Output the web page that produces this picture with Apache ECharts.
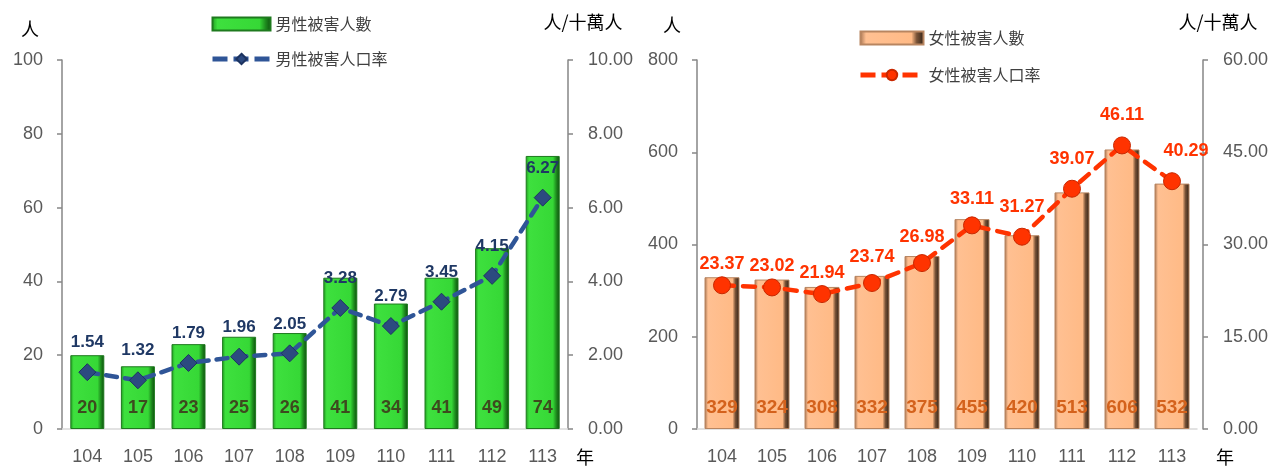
<!DOCTYPE html>
<html><head><meta charset="utf-8">
<script src="https://cdn.jsdelivr.net/npm/echarts@6/dist/echarts.min.js"></script>
<style>html,body{margin:0;padding:0;background:#fff}#c{width:1274px;height:466px}</style>
</head><body><div id="c"></div>
<script>
const years = ['104','105','106','107','108','109','110','111','112','113'];
const maleCount = [20,17,23,25,26,41,34,41,49,74];
const maleRate = [1.54,1.32,1.79,1.96,2.05,3.28,2.79,3.45,4.15,6.27];
const femaleCount = [329,324,308,332,375,455,420,513,606,532];
const femaleRate = [23.37,23.02,21.94,23.74,26.98,33.11,31.27,39.07,46.11,40.29];
const maleNames = ['男性被害人數','男性被害人口率'];
const femaleNames = ['女性被害人數','女性被害人口率'];

const NUM = "'Liberation Sans', Arial, sans-serif";
const NARROW = "'Liberation Sans Narrow', 'Liberation Sans', sans-serif";
const CJK = "'Noto Sans CJK TC', sans-serif";

const greenGrad = new echarts.graphic.LinearGradient(0,0,1,0,[
  {offset:0,color:'#1F9A1F'},{offset:0.1,color:'#3EE03E'},{offset:0.8,color:'#36D836'},{offset:0.9,color:'#1E8C1E'},{offset:1,color:'#0C4A0C'}]);
const peachGrad = new echarts.graphic.LinearGradient(0,0,1,0,[
  {offset:0,color:'#A06E4C'},{offset:0.1,color:'#FFC092'},{offset:0.8,color:'#FFBA86'},{offset:0.88,color:'#7A5438'},{offset:1,color:'#2A1D13'}]);

function xAx(gi,gap){
  return {type:'category',gridIndex:gi,data:years,
    axisLine:{lineStyle:{color:'#D9D9D9',width:1.5}},axisTick:{show:false},
    axisLabel:{color:'#595959',fontSize:18,fontFamily:NUM,margin:19},
    name:'\n年',nameLocation:'end',nameGap:gap,nameMoveOverlap:false,
    nameTextStyle:{color:'#000',fontSize:18,fontFamily:CJK,lineHeight:56,align:'left'}};
}
function yAx(gi,pos,max,interval,dec,name,gap,pad,offset){
  return {type:'value',gridIndex:gi,position:pos,offset:offset||0,min:0,max:max,interval:interval,
    axisLine:{show:true,lineStyle:{color:'#868686',width:1.5}},
    axisTick:{show:true,length:5,lineStyle:{color:'#868686',width:1.5}},
    splitLine:{show:false},
    axisLabel:{color:'#595959',fontSize:18,fontFamily:NUM,margin:dec?20:19,
      formatter:v=>dec?v.toFixed(2):String(v)},
    name:name,nameLocation:'end',nameGap:gap,nameMoveOverlap:false,
    nameTextStyle:{color:'#000',fontSize:18,fontFamily:CJK,padding:pad}};
}
const legendLine = {type:[15,6],width:5,cap:'butt'};

const option = {
  animation:false,
  grid:[{left:62,width:506,top:60,height:369,outerBoundsMode:'none',containLabel:false},
        {left:697,width:500,top:60,height:369,outerBoundsMode:'none',containLabel:false}],
  legend:[
    {orient:'vertical',left:205,top:11,itemWidth:58,itemHeight:13,itemGap:19,
      data:[{name:maleNames[0],icon:'rect'},{name:maleNames[1],lineStyle:legendLine}],
      textStyle:{color:'#404040',fontSize:16,fontFamily:CJK}},
    {orient:'vertical',left:853,top:25,itemWidth:63,itemHeight:13,itemGap:21,
      data:[{name:femaleNames[0],icon:'rect'},{name:femaleNames[1],lineStyle:legendLine}],
      textStyle:{color:'#404040',fontSize:16,fontFamily:CJK}}
  ],
  xAxis:[xAx(0,8),xAx(1,19)],
  yAxis:[
    yAx(0,'left',100,20,false,'人',22,[0,64,0,0]),
    yAx(0,'right',10,2,true,'人/十萬人',29,[0,0,0,30]),
    yAx(1,'left',800,200,false,'人',26,[0,50,0,0]),
    yAx(1,'right',60,15,true,'人/十萬人',29,[0,0,0,30],6)
  ],
  series:[
    {name:maleNames[0],type:'bar',xAxisIndex:0,yAxisIndex:0,data:maleCount,barWidth:34,
      itemStyle:{color:greenGrad,borderColor:'#1E7A1E',borderWidth:1},
      label:{show:true,position:'insideBottom',distance:12,color:'#3D4A1E',fontWeight:'bold',fontSize:18,fontFamily:NARROW}},
    {name:maleNames[1],type:'line',xAxisIndex:0,yAxisIndex:1,data:maleRate,
      symbol:'diamond',symbolSize:17,
      lineStyle:{color:'#2F5597',width:4.5,type:[11,8],cap:'round'},
      itemStyle:{color:'#2C4A80',borderColor:'#1C3360',borderWidth:1},
      label:{show:true,position:'top',distance:12,color:'#1F3864',fontWeight:'bold',fontSize:17,fontFamily:NUM,
        formatter:p=>p.value.toFixed(2)}},
    {name:femaleNames[0],type:'bar',xAxisIndex:1,yAxisIndex:2,data:femaleCount,barWidth:35,
      itemStyle:{color:peachGrad,borderColor:'#B88560',borderWidth:1},
      label:{show:true,position:'insideBottom',distance:12,color:'#D4621C',fontWeight:'bold',fontSize:19,fontFamily:NARROW}},
    {name:femaleNames[1],type:'line',xAxisIndex:1,yAxisIndex:3,
      data:femaleRate.map((v,i)=>{
        if(i<=2) return {value:v,label:{offset:[0,5]}};
        if(i===9) return {value:v,label:{offset:[14,-4]}};
        if(i>=6) return {value:v,label:{offset:[0,-4]}};
        return v;}),
      symbol:'circle',symbolSize:17,
      lineStyle:{color:'#FF3300',width:4.5,type:[12,9],cap:'round'},
      itemStyle:{color:'#FF3300',borderColor:'#C82800',borderWidth:1},
      label:{show:true,position:'top',distance:8,color:'#FF3300',fontWeight:'bold',fontSize:18,fontFamily:NUM,
        formatter:p=>(typeof p.value==='number'?p.value:p.data.value).toFixed(2)}}
  ]
};
const chart = echarts.init(document.getElementById('c'),null,{renderer:'canvas'});
chart.setOption(option);
</script></body></html>
